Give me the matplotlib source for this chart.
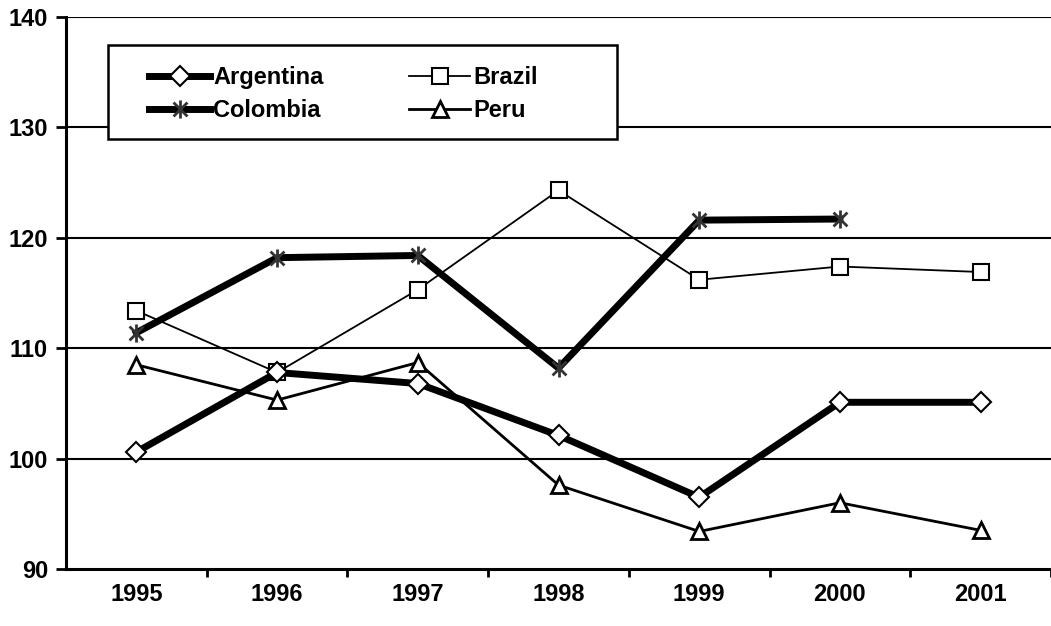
import matplotlib.pyplot as plt
import numpy as np
from matplotlib.path import Path
from matplotlib.patches import Rectangle

# Data
years = ['1995', '1996', '1997', '1998', '1999', '2000', '2001']
argentina = [100.6, 107.8, 106.8, 102.1, 96.5, 105.1, 105.1]
brazil = [113.4, 107.8, 115.3, 124.3, 116.2, 117.4, 116.9]
colombia = [111.4, 118.2, 118.4, 108.2, 121.6, 121.7]
peru = [108.5, 105.3, 108.7, 97.6, 93.4, 96.0, 93.5]
y_ticks = [90, 100, 110, 120, 130, 140]

plt.rcParams['font.family'] = ['Liberation Sans', 'DejaVu Sans']
plt.rcParams['font.weight'] = 'bold'

# star marker: an x with a vertical bar (Excel style)
star = Path([(-1, -1), (1, 1), (-1, 1), (1, -1), (0, -1.3), (0, 1.3)],
            [Path.MOVETO, Path.LINETO, Path.MOVETO, Path.LINETO, Path.MOVETO, Path.LINETO])

fig = plt.figure(figsize=(10.51, 6.26), dpi=100)
ax = fig.add_axes([66 / 1051, 57 / 626, 985 / 1051, 552 / 626])

x = np.arange(len(years))
l_arg, = ax.plot(x, argentina, color='black', lw=5, marker='D', ms=10, mfc='white', mec='black',
                 mew=1.5, label='Argentina', zorder=4, clip_on=False)
l_bra, = ax.plot(x, brazil, color='black', lw=1.3, marker='s', ms=11, mfc='white', mec='black',
                 mew=1.5, label='Brazil', zorder=3, clip_on=False)
l_col, = ax.plot(x[:len(colombia)], colombia, color='black', lw=5, marker=star, ms=13, mfc='none',
                 mec='#333333', mew=2, label='Colombia', zorder=4, clip_on=False)
l_per, = ax.plot(x, peru, color='black', lw=2, marker='^', ms=12, mfc='white', mec='black',
                 mew=2, label='Peru', zorder=3, clip_on=False)

ax.set_xlim(-0.5, -0.5 + 985 / 142.3)
ax.set_ylim(90, 140)
ax.set_yticks(y_ticks)
ax.set_yticklabels([str(v) for v in y_ticks], fontsize=17, fontweight='bold')
ax.set_xticks(x)
ax.set_xticklabels(years, fontsize=17, fontweight='bold')
ax.set_xticks(np.arange(len(years)) + 0.5, minor=True)
ax.tick_params(axis='x', which='major', length=0, pad=10)
ax.tick_params(axis='x', which='minor', length=6, width=2, direction='out')
ax.tick_params(axis='y', length=7, width=2, direction='out', pad=6)

for v in y_ticks[1:]:
    ax.axhline(v, color='black', lw=1.5, zorder=1)

for s in ['top', 'right']:
    ax.spines[s].set_visible(False)
ax.spines['left'].set_linewidth(2.2)
ax.spines['bottom'].set_linewidth(2.2)

# legend box drawn separately (Excel-style padding)
box = Rectangle((0.0426, 0.779), 0.517, 0.170, transform=ax.transAxes, facecolor='white',
                edgecolor='black', lw=1.8, zorder=9, clip_on=False)
ax.add_patch(box)

# column-first fill, so order gives rows Argentina/Brazil, Colombia/Peru
leg = ax.legend([l_arg, l_col, l_bra, l_per], ['Argentina', 'Colombia', 'Brazil', 'Peru'],
                ncol=2, loc='upper left', bbox_to_anchor=(0.0843, 0.9105),
                prop={'size': 17, 'weight': 'bold'}, handlelength=2.6, handletextpad=0.13,
                columnspacing=3.6, labelspacing=0.4, borderpad=0, frameon=False,
                borderaxespad=0)
leg.set_zorder(10)

fig.savefig('out.png', dpi=100)
